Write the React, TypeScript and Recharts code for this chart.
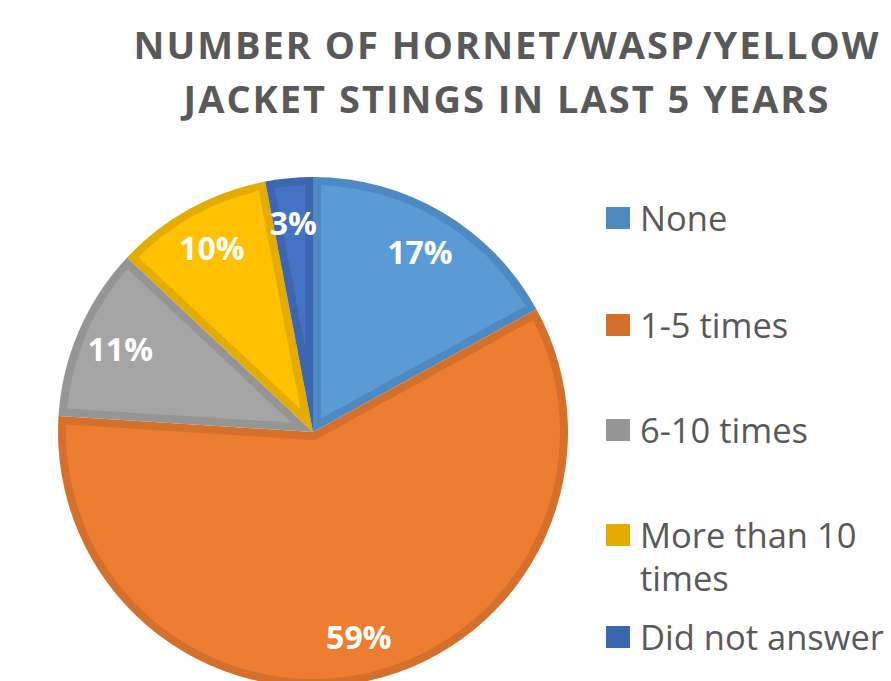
import { Legend, Pie, PieChart } from "recharts";

const categories = ["None", "1-5 times", "6-10 times", "More than 10 times", "Did not answer"];
const shares = [17, 59, 11, 10, 3];
const titleLines = ["NUMBER OF HORNET/WASP/YELLOW", "JACKET STINGS IN LAST 5 YEARS"];

const FILLS = ["#5B9BD5", "#ED7D31", "#A5A5A5", "#FFC000", "#4472C4"];
const EDGES = ["#4E89C2", "#D5702C", "#959595", "#E5AC00", "#3D66B1"];
const INK = "#595959";
const FONT = "'Open Sans', 'DejaVu Sans', sans-serif";
const BORDER = 8;
const RAD = Math.PI / 180;

const data = categories.map((name, i) => ({ name, value: shares[i], fill: FILLS[i] }));

const pt = (cx: number, cy: number, r: number, a: number) => [cx + r * Math.cos(a * RAD), cy - r * Math.sin(a * RAD)];

// slice with an inner border in a darker shade, like Office does it
function BorderedSlice(props: any) {
  const { cx, cy, outerRadius: R, startAngle: s, endAngle: e } = props;
  const i = Math.max(0, categories.indexOf(props.name ?? props.payload?.name));
  const dir = e > s ? 1 : -1;
  const span = Math.abs(e - s);
  const sweep = dir < 0 ? 1 : 0;
  const [ox0, oy0] = pt(cx, cy, R, s);
  const [ox1, oy1] = pt(cx, cy, R, e);
  const outer = `M${cx},${cy}L${ox0},${oy0}A${R},${R},0,${span > 180 ? 1 : 0},${sweep},${ox1},${oy1}Z`;

  const r2 = R - BORDER;
  const d = Math.asin(BORDER / r2) / RAD;
  const mid = (s + e) / 2;
  const apexR = BORDER / Math.sin((span / 2) * RAD);
  const [ax, ay] = pt(cx, cy, apexR, mid);
  const [ix0, iy0] = pt(cx, cy, r2, s + dir * d);
  const [ix1, iy1] = pt(cx, cy, r2, e - dir * d);
  const inner = `M${ax},${ay}L${ix0},${iy0}A${r2},${r2},0,${span - 2 * d > 180 ? 1 : 0},${sweep},${ix1},${iy1}Z`;

  return (
    <g>
      <path d={outer} fill={EDGES[i]} />
      <path d={inner} fill={FILLS[i]} />
    </g>
  );
}

function SliceLabel({ cx, cy, midAngle, value }: any) {
  const [x, y] = pt(cx, cy, 210, midAngle);
  return (
    <text x={x} y={y} fill="#fff" fontFamily={FONT} fontWeight={700} fontSize={32} textAnchor="middle" dominantBaseline="central">
      {`${value}%`}
    </text>
  );
}

const GAPS = [0, 64, 62, 62, 16];

function LegendBox() {
  return (
    <div style={{ fontFamily: FONT, fontSize: 34.5, color: INK }}>
      {categories.map((c, i) => (
        <div key={c} style={{ display: "flex", alignItems: "flex-start", marginTop: GAPS[i], lineHeight: "43px" }}>
          <span style={{ width: 24, height: 22, background: EDGES[i], marginTop: 11, marginRight: 10, flexShrink: 0 }} />
          <span style={{ width: 250 }}>{c}</span>
        </div>
      ))}
    </div>
  );
}

export default function App() {
  return (
    <div style={{ position: "absolute", left: 0, top: 0, width: 891, height: 681, background: "#fff", overflow: "hidden" }}>
      <div
        style={{
          position: "absolute",
          left: 107,
          width: 800,
          top: 17,
          textAlign: "center",
          fontFamily: FONT,
          fontWeight: 700,
          fontSize: 38,
          letterSpacing: 2,
          lineHeight: "54px",
          color: INK,
        }}
      >
        {titleLines.map((t) => (
          <div key={t}>{t}</div>
        ))}
      </div>
      <PieChart width={891} height={681} margin={{ top: 0, right: 0, bottom: 0, left: 0 }}>
        <Pie
          data={data}
          dataKey="value"
          nameKey="name"
          cx={313}
          cy={432}
          outerRadius={255}
          startAngle={90}
          endAngle={-270}
          stroke="none"
          shape={BorderedSlice}
          label={SliceLabel}
          labelLine={false}
          isAnimationActive={false}
        />
        <Legend
          layout="vertical"
          content={() => <LegendBox />}
          wrapperStyle={{ position: "absolute", left: 606, top: 196, width: 285 }}
        />
      </PieChart>
    </div>
  );
}
